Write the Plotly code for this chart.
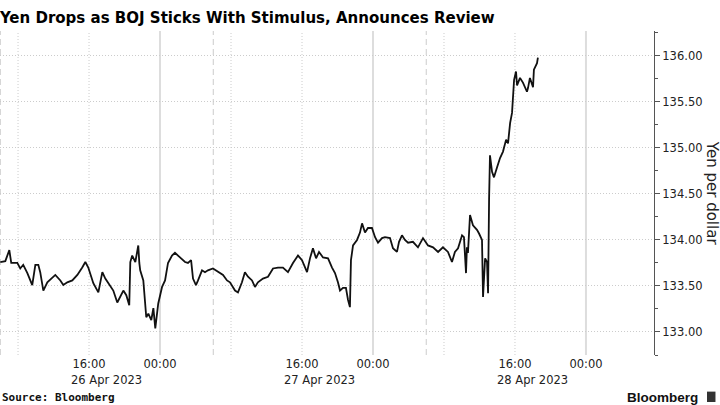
import plotly.graph_objects as go

# ---- data (USD/JPY, yen per dollar) ----
day1_times = ["2023-04-26 06:00", "2023-04-26 06:34", "2023-04-26 07:01", "2023-04-26 07:14", "2023-04-26 07:55",
              "2023-04-26 08:15", "2023-04-26 08:35", "2023-04-26 09:03", "2023-04-26 09:36", "2023-04-26 09:57",
              "2023-04-26 10:17", "2023-04-26 10:30", "2023-04-26 10:51", "2023-04-26 11:18", "2023-04-26 12:12",
              "2023-04-26 12:46", "2023-04-26 13:06", "2023-04-26 13:33", "2023-04-26 14:07", "2023-04-26 14:41",
              "2023-04-26 15:14", "2023-04-26 15:35", "2023-04-26 15:55", "2023-04-26 16:29", "2023-04-26 17:03",
              "2023-04-26 17:30", "2023-04-26 17:50", "2023-04-26 18:24", "2023-04-26 18:44", "2023-04-26 19:11",
              "2023-04-26 19:31", "2023-04-26 19:52", "2023-04-26 20:12", "2023-04-26 20:32", "2023-04-26 20:39",
              "2023-04-26 20:52", "2023-04-26 21:13", "2023-04-26 21:33", "2023-04-26 21:40", "2023-04-26 21:46",
              "2023-04-26 22:07", "2023-04-26 22:27", "2023-04-26 22:41", "2023-04-26 23:01", "2023-04-26 23:15",
              "2023-04-26 23:28", "2023-04-26 23:48"]
day1_values = [133.76, 133.77, 133.89, 133.75, 133.75,
               133.69, 133.73, 133.64, 133.51, 133.73,
               133.73, 133.65, 133.45, 133.54, 133.62,
               133.56, 133.51, 133.54, 133.56, 133.62,
               133.70, 133.76, 133.70, 133.53, 133.43,
               133.65, 133.58, 133.49, 133.45, 133.32,
               133.38, 133.45, 133.40, 133.29, 133.76,
               133.83, 133.76, 133.94, 133.75, 133.67,
               133.56, 133.16, 133.20, 133.13, 133.26,
               133.04, 133.31]

day2_times = ["2023-04-27 00:14", "2023-04-27 00:34", "2023-04-27 00:54", "2023-04-27 01:21", "2023-04-27 01:41",
              "2023-04-27 02:15", "2023-04-27 02:49", "2023-04-27 03:09", "2023-04-27 03:30", "2023-04-27 03:43",
              "2023-04-27 04:03", "2023-04-27 04:17", "2023-04-27 04:44", "2023-04-27 05:04", "2023-04-27 05:24",
              "2023-04-27 05:58", "2023-04-27 06:32", "2023-04-27 07:06", "2023-04-27 07:33", "2023-04-27 07:53",
              "2023-04-27 08:27", "2023-04-27 08:47", "2023-04-27 09:14", "2023-04-27 09:34", "2023-04-27 09:55",
              "2023-04-27 10:22", "2023-04-27 10:42", "2023-04-27 11:02", "2023-04-27 11:36", "2023-04-27 12:10",
              "2023-04-27 12:44", "2023-04-27 13:18", "2023-04-27 13:51", "2023-04-27 14:25", "2023-04-27 14:59",
              "2023-04-27 15:33", "2023-04-27 16:00", "2023-04-27 16:34", "2023-04-27 16:54", "2023-04-27 17:14",
              "2023-04-27 17:35", "2023-04-27 17:55", "2023-04-27 18:22", "2023-04-27 18:56", "2023-04-27 19:23",
              "2023-04-27 19:43", "2023-04-27 20:03", "2023-04-27 20:17", "2023-04-27 20:37", "2023-04-27 20:57",
              "2023-04-27 21:11", "2023-04-27 21:24", "2023-04-27 21:31", "2023-04-27 21:45", "2023-04-27 22:12",
              "2023-04-27 22:32", "2023-04-27 22:46", "2023-04-27 23:06", "2023-04-27 23:26", "2023-04-27 23:53"]
day2_values = [133.49, 133.56, 133.75, 133.83, 133.86,
               133.81, 133.76, 133.75, 133.78, 133.58,
               133.51, 133.56, 133.67, 133.65, 133.67,
               133.69, 133.65, 133.62, 133.56, 133.54,
               133.45, 133.43, 133.54, 133.65, 133.60,
               133.56, 133.49, 133.54, 133.58, 133.60,
               133.69, 133.70, 133.70, 133.65, 133.75,
               133.83, 133.78, 133.65, 133.80, 133.91,
               133.80, 133.87, 133.81, 133.80, 133.70,
               133.64, 133.54, 133.45, 133.48, 133.48,
               133.35, 133.27, 133.78, 133.94, 134.00,
               134.08, 134.18, 134.08, 134.13, 134.13]

day3_times = ["2023-04-28 00:14", "2023-04-28 00:34", "2023-04-28 01:01", "2023-04-28 01:21", "2023-04-28 01:55",
              "2023-04-28 02:15", "2023-04-28 02:42", "2023-04-28 02:56", "2023-04-28 03:16", "2023-04-28 03:36",
              "2023-04-28 03:57", "2023-04-28 04:30", "2023-04-28 05:04", "2023-04-28 05:38", "2023-04-28 06:12",
              "2023-04-28 06:46", "2023-04-28 07:20", "2023-04-28 07:53", "2023-04-28 08:27", "2023-04-28 08:54",
              "2023-04-28 09:14", "2023-04-28 09:35", "2023-04-28 10:02", "2023-04-28 10:15", "2023-04-28 10:29",
              "2023-04-28 10:35", "2023-04-28 10:42", "2023-04-28 10:56", "2023-04-28 11:16", "2023-04-28 11:43",
              "2023-04-28 11:57", "2023-04-28 12:17", "2023-04-28 12:24", "2023-04-28 12:31", "2023-04-28 12:38",
              "2023-04-28 12:51", "2023-04-28 12:58", "2023-04-28 13:05", "2023-04-28 13:11", "2023-04-28 13:25",
              "2023-04-28 13:38", "2023-04-28 13:59", "2023-04-28 14:19", "2023-04-28 14:39", "2023-04-28 15:00",
              "2023-04-28 15:13", "2023-04-28 15:27", "2023-04-28 15:40", "2023-04-28 15:47", "2023-04-28 15:54",
              "2023-04-28 16:07", "2023-04-28 16:14", "2023-04-28 16:34", "2023-04-28 16:54", "2023-04-28 17:21",
              "2023-04-28 17:28", "2023-04-28 17:41", "2023-04-28 18:02", "2023-04-28 18:08", "2023-04-28 18:29",
              "2023-04-28 18:35"]
day3_values = [134.03, 133.97, 134.02, 134.03, 134.02,
               133.91, 133.87, 133.98, 134.05, 134.00,
               133.97, 133.98, 133.92, 134.02, 133.94,
               133.92, 133.87, 133.92, 133.87, 133.76,
               133.87, 133.91, 134.05, 134.03, 133.64,
               133.92, 133.86, 134.27, 134.16, 134.11,
               134.07, 134.00, 133.38, 133.62, 133.80,
               133.76, 133.42, 134.45, 134.92, 134.74,
               134.68, 134.79, 134.89, 134.96, 135.09,
               135.05, 135.27, 135.38, 135.58, 135.74,
               135.83, 135.68, 135.76, 135.71, 135.61,
               135.65, 135.76, 135.66, 135.85, 135.92,
               135.98]

times = day1_times + day2_times + day3_times
yen_per_dollar = day1_values + day2_values + day3_values

# x-axis labels
tick_times = ["2023-04-26 16:00", "2023-04-27 00:00", "2023-04-27 16:00",
              "2023-04-28 00:00", "2023-04-28 16:00", "2023-04-29 00:00"]
tick_labels = ["16:00", "00:00", "16:00", "00:00", "16:00", "00:00"]
date_label_times = ["2023-04-26 18:00", "2023-04-27 18:00", "2023-04-28 18:00"]
date_labels = ["26 Apr 2023", "27 Apr 2023", "28 Apr 2023"]

# vertical reference lines
dotted_lines = ["2023-04-26 08:00", "2023-04-26 16:00", "2023-04-27 08:00",
                "2023-04-27 16:00", "2023-04-28 08:00", "2023-04-28 16:00"]
solid_lines = ["2023-04-27 00:00", "2023-04-28 00:00", "2023-04-29 00:00"]
dashed_lines = ["2023-04-26 06:00", "2023-04-27 06:00", "2023-04-28 06:00"]

x_range = ["2023-04-26 05:58", "2023-04-29 07:40"]
y_range = [132.75, 136.27]

LABEL_FONT = "DejaVu Sans, sans-serif"

fig = go.Figure()
fig.add_trace(go.Scatter(x=times, y=yen_per_dollar, mode="lines",
                         line=dict(color="#111111", width=1.8), showlegend=False))

shapes = []
for t in dotted_lines:
    shapes.append(dict(type="line", xref="x", yref="paper", x0=t, x1=t, y0=0, y1=1,
                       line=dict(color="#cccccc", width=1, dash="1px,2px"), layer="below"))
for t in solid_lines:
    shapes.append(dict(type="line", xref="x", yref="paper", x0=t, x1=t, y0=0, y1=1,
                       line=dict(color="#dddddd", width=2), layer="below"))
for t in dashed_lines:
    shapes.append(dict(type="line", xref="x", yref="paper", x0=t, x1=t, y0=0, y1=1,
                       line=dict(color="#cccccc", width=1, dash="6px,4px"), layer="below"))
# Bloomberg logo square
shapes.append(dict(type="rect", xref="paper", yref="paper", x0=1.081, x1=1.094, y0=-0.145, y1=-0.113,
                   fillcolor="#333333", line=dict(width=0)))

annotations = []
for t, lab in zip(date_label_times, date_labels):
    annotations.append(dict(x=t, y=-0.077, xref="x", yref="paper", text=lab, showarrow=False,
                            xanchor="center", yanchor="middle",
                            font=dict(family=LABEL_FONT, size=11.5, color="#222222")))
annotations.append(dict(x=1.089, y=0.5, xref="paper", yref="paper", text="Yen per dollar",
                        textangle=90, showarrow=False, xanchor="center", yanchor="middle",
                        font=dict(family=LABEL_FONT, size=15, color="#222222")))
annotations.append(dict(x=0.0, y=-0.13, xref="paper", yref="paper", text="<b>Source: Bloomberg</b>",
                        showarrow=False, xanchor="left", yanchor="middle",
                        font=dict(family="DejaVu Sans Mono, monospace", size=11, color="#111111")))
annotations.append(dict(x=1.071, y=-0.13, xref="paper", yref="paper", text="<b>Bloomberg</b>",
                        showarrow=False, xanchor="right", yanchor="middle",
                        font=dict(family="Liberation Sans, Arial, sans-serif", size=13.5, color="#111111")))

fig.update_layout(
    width=720, height=405,
    margin=dict(l=0, r=66, t=31, b=50),
    paper_bgcolor="white", plot_bgcolor="white",
    title=dict(text="<b>Yen Drops as BOJ Sticks With Stimulus, Announces Review</b>",
               x=0.0, xref="container", xanchor="left",
               y=1 - 17 / 405, yref="container", yanchor="middle",
               font=dict(family="DejaVu Sans Condensed, DejaVu Sans, sans-serif", size=16.7, color="#000000")),
    shapes=shapes,
    annotations=annotations,
    xaxis=dict(type="date", range=x_range, showgrid=False, zeroline=False, showline=False,
               tickmode="array", tickvals=tick_times, ticktext=tick_labels, ticks="",
               tickfont=dict(family=LABEL_FONT, size=11.5, color="#222222")),
    yaxis=dict(side="right", range=y_range, showgrid=True, gridcolor="#cccccc", griddash="1px,2px",
               gridwidth=1, zeroline=False, showline=True, linecolor="#555555", linewidth=1,
               ticks="outside", ticklen=5, tickcolor="#555555", dtick=0.5, tick0=133,
               tickformat=".2f",
               minor=dict(ticks="outside", ticklen=3, tickcolor="#555555", dtick=0.25, showgrid=False),
               tickfont=dict(family=LABEL_FONT, size=11.5, color="#222222")),
    hovermode=False,
)

fig.write_html("out.html", config={"displayModeBar": False},
               post_script="document.body.style.margin='0px';")
